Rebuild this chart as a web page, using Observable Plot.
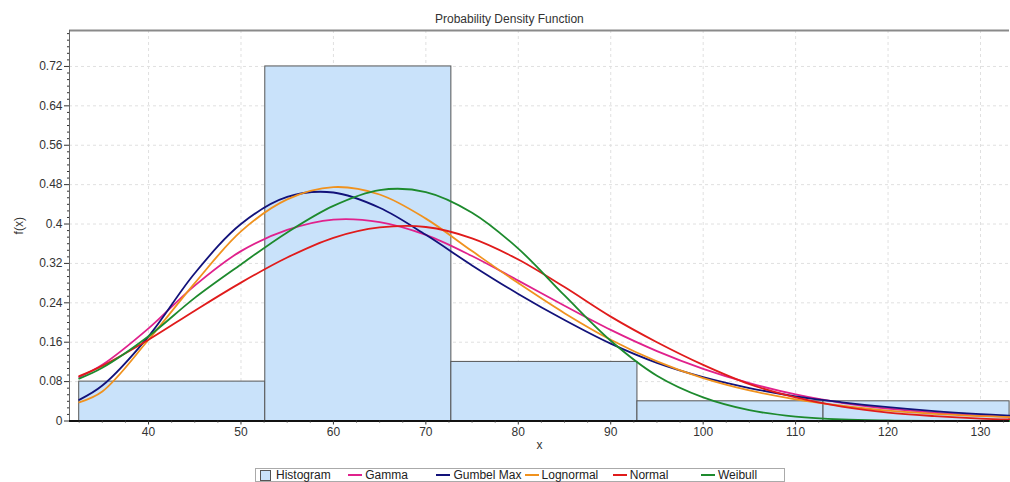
<!DOCTYPE html>
<html><head><meta charset="utf-8">
<script src="https://cdn.jsdelivr.net/npm/d3@7"></script>
<script src="https://cdn.jsdelivr.net/npm/@observablehq/plot@0.6"></script>
<style>
body{margin:0;background:#fff;font-family:"Liberation Sans",Arial,sans-serif;}
#wrap{position:relative;width:1010px;height:482px;overflow:hidden;}
#title{position:absolute;left:435px;top:11px;font-size:12px;color:#333;line-height:16px;white-space:nowrap;}
#chart{position:absolute;left:0;top:28px;}
#legend{position:absolute;left:255px;top:468px;width:530px;height:14px;border:1px solid #aaa;display:flex;padding-left:4px;box-sizing:border-box;}
.item{width:88.2px;flex:none;display:flex;align-items:center;font-size:12px;color:#222;white-space:nowrap;line-height:12px;}
.sw{width:9px;height:9px;border:1px solid #555;margin-right:5px;}
.ln{width:14px;height:2px;margin-right:3px;}
</style></head>
<body>
<div id="wrap">
  <div id="title">Probability Density Function</div>
  <div id="chart"></div>
  <div id="legend"></div>
</div>
<script>
// ---- data ----
const xs = [32.5, 35, 40, 45, 50, 55, 60, 65, 70, 75, 80, 85, 90, 95, 100, 105, 110, 115, 120, 125, 130, 133.15];
const gammaY     = [0.089, 0.114, 0.188, 0.275, 0.345, 0.388, 0.409, 0.404, 0.378, 0.335, 0.285, 0.234, 0.185, 0.142, 0.106, 0.077, 0.054, 0.037, 0.025, 0.017, 0.011, 0.009];
const gumbelY    = [0.043, 0.072, 0.172, 0.300, 0.400, 0.455, 0.464, 0.433, 0.378, 0.316, 0.258, 0.205, 0.157, 0.118, 0.089, 0.067, 0.050, 0.038, 0.028, 0.020, 0.014, 0.011];
const lognormalY = [0.038, 0.060, 0.165, 0.280, 0.385, 0.450, 0.475, 0.460, 0.411, 0.345, 0.280, 0.219, 0.165, 0.121, 0.087, 0.062, 0.044, 0.031, 0.021, 0.0145, 0.010, 0.008];
const normalY    = [0.091, 0.112, 0.165, 0.224, 0.281, 0.332, 0.372, 0.393, 0.394, 0.371, 0.328, 0.272, 0.212, 0.160, 0.114, 0.075, 0.048, 0.029, 0.017, 0.010, 0.005, 0.003];
const weibullY   = [0.086, 0.108, 0.172, 0.250, 0.318, 0.383, 0.437, 0.469, 0.465, 0.423, 0.350, 0.255, 0.163, 0.092, 0.048, 0.022, 0.009, 0.003, 0.001, 0.0003, 0, 0];

const seriesNames  = ["Gamma", "Gumbel Max", "Lognormal", "Normal", "Weibull"];
const seriesValues = [gammaY, gumbelY, lognormalY, normalY, weibullY];
const seriesColors = ["#e0218c", "#12127a", "#f0921e", "#e01b1b", "#1d8a2d"];

const binEdges = [32.5, 52.63, 72.76, 92.89, 113.02, 133.15];
const histFreq = [0.08, 0.72, 0.12, 0.04, 0.04];

const xTicks = [40, 50, 60, 70, 80, 90, 100, 110, 120, 130];
const yTicks = [0, 0.08, 0.16, 0.24, 0.32, 0.4, 0.48, 0.56, 0.64, 0.72];
const yTickLabels = ["0", "0.08", "0.16", "0.24", "0.32", "0.4", "0.48", "0.56", "0.64", "0.72"];

// ---- build ----
const xDomain = [31.45, 133.14];
const yDomain = [0, 0.793];
const bins = histFreq.map((v, i) => ({x1: binEdges[i], x2: binEdges[i + 1], y: v}));
const minorX = d3.range(32.5, 133.2, 2.5).filter(v => !xTicks.includes(v));
const minorY = d3.range(0, 0.79, 0.08 / 6).filter((v, i) => i % 6 !== 0);

const lines = seriesNames.map((name, i) =>
  Plot.line(xs.map((x, j) => ({x, y: seriesValues[i][j]})),
    {x: "x", y: "y", stroke: seriesColors[i], strokeWidth: 1.8, curve: "catmull-rom"}));

const chart = Plot.plot({
  width: 1010,
  height: 434,
  marginTop: 2,
  marginBottom: 41.5,
  marginLeft: 69,
  marginRight: 1,
  style: {fontSize: "12px", fontFamily: "'Liberation Sans', Arial, sans-serif", color: "#333", background: "#fff"},
  x: {domain: xDomain},
  y: {domain: yDomain},
  marks: [
    Plot.gridX(xTicks, {stroke: "#e0e0e0", strokeOpacity: 1, strokeDasharray: "3,3"}),
    Plot.gridY(yTicks.slice(1), {stroke: "#e0e0e0", strokeOpacity: 1, strokeDasharray: "3,3"}),
    Plot.rectY(bins, {x1: "x1", x2: "x2", y: "y", fill: "#c9e2fa", stroke: "#555", strokeWidth: 1}),
    ...lines,
    Plot.ruleY([yDomain[1]], {stroke: "#8a8a8a", strokeWidth: 2}),
    Plot.ruleX([xDomain[0]], {stroke: "#666", strokeWidth: 1}),
    Plot.ruleY([0], {stroke: "#111", strokeWidth: 2}),
    Plot.axisX(xTicks, {tickSize: 4, tickPadding: 2, label: "x", labelAnchor: "center", labelOffset: 28, labelArrow: "none"}),
    Plot.axisX(minorX, {tickSize: 2, tickFormat: () => "", label: null}),
    Plot.axisY(yTicks, {tickSize: 5, tickPadding: 2, tickFormat: d => yTickLabels[yTicks.indexOf(d)], label: "f(x)", labelAnchor: "center", labelOffset: 55, labelArrow: "none"}),
    Plot.axisY(minorY, {tickSize: 2, tickFormat: () => "", label: null})
  ]
});
document.getElementById("chart").appendChild(chart);

// ---- legend ----
const legend = document.getElementById("legend");
const legendItems = ["Histogram", ...seriesNames];
legendItems.forEach((name, i) => {
  const it = document.createElement("div");
  it.className = "item";
  const sw = document.createElement("span");
  if (i === 0) { sw.className = "sw"; sw.style.background = "#c9e2fa"; }
  else { sw.className = "ln"; sw.style.background = seriesColors[i - 1]; }
  it.appendChild(sw);
  const t = document.createElement("span");
  t.textContent = name;
  it.appendChild(t);
  legend.appendChild(it);
});
</script>
</body></html>
